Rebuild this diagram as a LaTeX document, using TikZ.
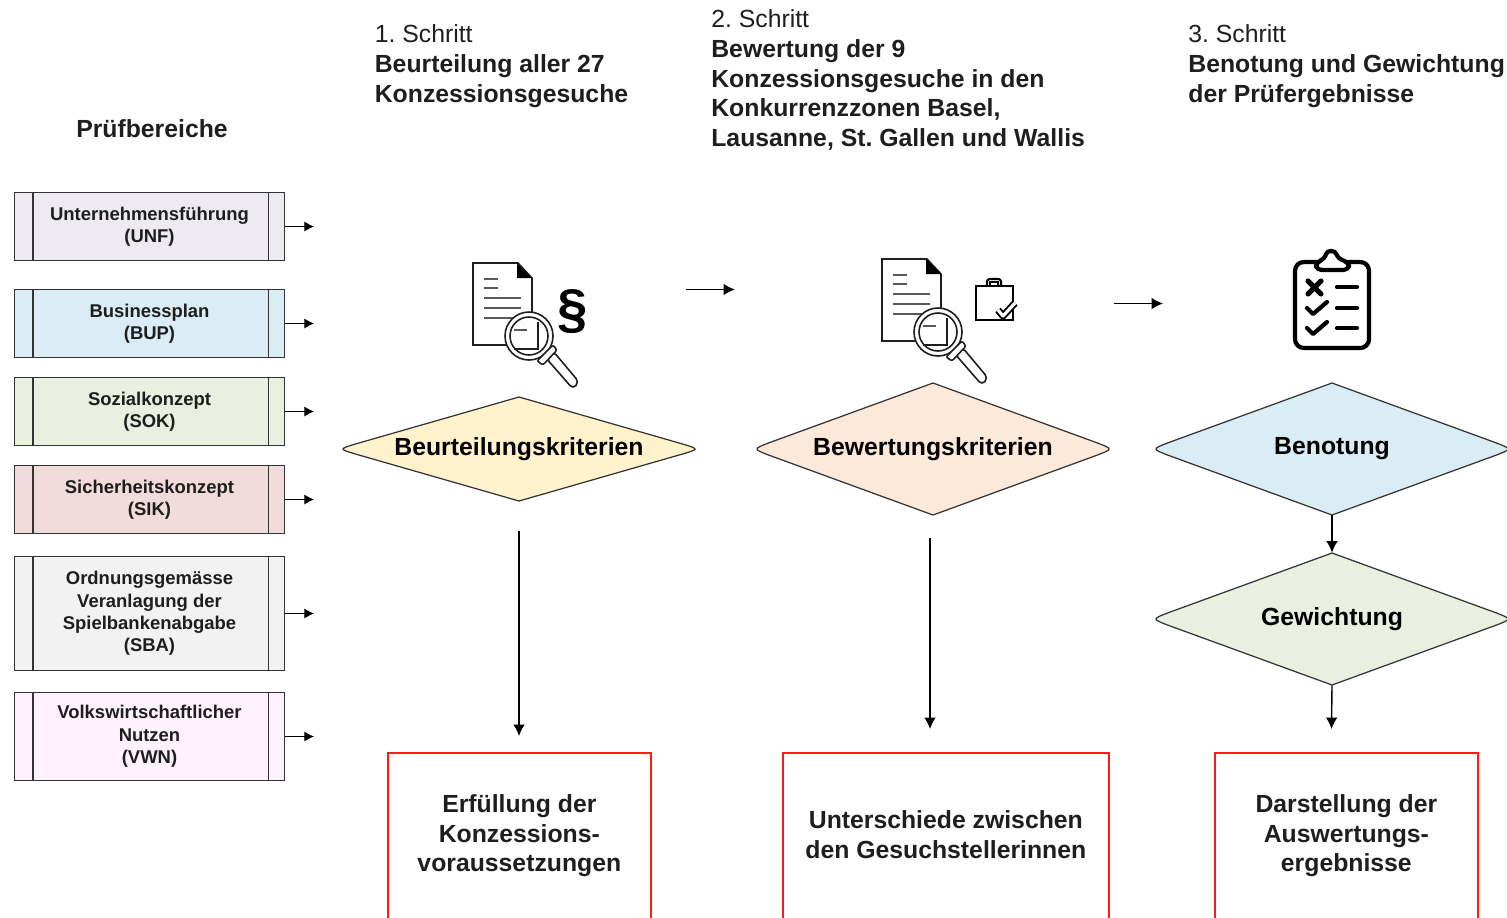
\documentclass[tikz,border=0pt]{standalone}
\usepackage{fontspec}
\setmainfont{Liberation Sans}
\usetikzlibrary{shapes.geometric,arrows.meta}
\definecolor{ink}{HTML}{1E1E1E}
\definecolor{frameline}{HTML}{333333}
\definecolor{cUNF}{HTML}{EDEAF1}
\definecolor{cBUP}{HTML}{DAEDF4}
\definecolor{cSOK}{HTML}{E9F0DF}
\definecolor{cSIK}{HTML}{F2DCDB}
\definecolor{cSBA}{HTML}{F2F2F2}
\definecolor{cVWN}{HTML}{FDF2FD}
\definecolor{cBeu}{HTML}{FFF2CC}
\definecolor{cBew}{HTML}{FCE9DA}
\definecolor{cBen}{HTML}{DAEDF4}
\definecolor{cGew}{HTML}{E9F0DF}
\definecolor{boxred}{HTML}{FF1A1A}
\tikzset{
  x=0.02cm,y=-0.02cm,
  headtext/.style={anchor=north west,inner sep=0pt,align=left,text=ink,font=\frenchspacing\fontsize{14.1}{16.85}\selectfont},
  procbox/.style={draw=frameline,line width=0.7pt,minimum width=270*0.02cm,inner sep=0pt,align=center,text=ink,font=\bfseries\fontsize{10.5}{12.7}\selectfont},
  procline/.style={line width=0.7pt,draw=frameline},
  flow/.style={-{Latex[length=6.5pt,width=6.6pt]},line width=0.8pt,black},
  shortflow/.style={-{Latex[length=5.5pt,width=5.8pt]},line width=0.7pt,black},
  diamtext/.style={diamond,inner sep=0pt,text=black,font=\bfseries\fontsize{14.1}{17}\selectfont},
  diamline/.style={line width=0.7pt,draw=frameline},
  result/.style={anchor=north west,inner sep=0pt,align=center,text=ink,font=\bfseries\fontsize{14.1}{16.85}\selectfont},
  resultline/.style={draw=boxred,line width=1pt},
  icon/.style={line width=0.9pt,draw=ink},
  iconlight/.style={line width=1.1pt,draw=black!65},
  clipico/.style={line width=2.4pt,draw=black,line cap=round,line join=round},
}
% name, cx, cy, half width, half height, fill, text
\newcommand{\flowdiam}[7]{%
  \pgfmathsetmacro{\diamdy}{17*#5/(#4+5)}%
  \path[fill=#6,diamline]
    (#2,#3-#5) -- (#2+#4-12,#3-\diamdy) .. controls (#2+#4+4,#3) and (#2+#4+4,#3) .. (#2+#4-12,#3+\diamdy)
    -- (#2,#3+#5) -- (#2-#4+12,#3+\diamdy) .. controls (#2-#4-4,#3) and (#2-#4-4,#3) .. (#2-#4+12,#3-\diamdy) -- cycle;
  \pgfmathsetmacro{\diamasp}{#4/#5}%
  \node[diamtext,minimum width=2*#4*0.02cm,minimum height=2*#5*0.02cm,aspect=\diamasp] (#1) at (#2,#3) {#7};%
}
% name, top, height, fill, text
\newcommand{\prbox}[5]{%
  \node[procbox,fill=#4,minimum height=#3*0.02cm] (#1) at (149.5,#2+#3/2) {#5};
  \draw[procline] (#1.north west)++(19,0) -- ++(0,#3);
  \draw[procline] (#1.north east)++(-17,0) -- ++(0,#3);
  \coordinate (#1-end) at (314,#2+#3/2);
  \draw[shortflow] (#1.east) -- (#1-end);%
}
% name, left, width, text height, text: open frame running off the page
\newcommand{\resbox}[5]{%
  \node[result,minimum width=#3*0.02cm,minimum height=#4*0.02cm] (#1) at (#2,753) {#5};
  \draw[resultline] (#1.north west) ++(0,200) -- (#1.north west) -- (#1.north east) -- ++(0,200);%
}
% document with magnifier, offset dx dy
\newcommand{\docicon}[2]{%
\begin{scope}[shift={(#1,#2)}]
  \draw[icon,fill=white] (473,263) -- (518,263) -- (532,278) -- (532,345) -- (473,345) -- cycle;
  \fill[black] (517,263) -- (532,278) -- (517,278) -- cycle;
  \draw[iconlight] (484,279) -- (498,279) (484,288) -- (498,288) (484,298) -- (521,298) (484,308) -- (521,308) (484,318) -- (515,318);
  \draw[icon,fill=white] (529,336) circle (24);
  \draw[icon,fill=white] (529,336) circle (19);
  \draw[iconlight] (514,330) -- (527,330);
  \draw[icon] (514,349) -- (538,349) -- (538,322);
  \draw[icon,fill=white,rounded corners=2.6pt] (546,358) -- (553,351) -- (579,382) -- (573,389) -- cycle;
  \draw[icon,fill=white,rounded corners=1.2pt] (553,345) -- (557,350) -- (543,365) -- (537,361) -- cycle;
\end{scope}}
\begin{document}
\begin{tikzpicture}
\useasboundingbox (0,0) rectangle (1507,917);
\clip (0,0) rectangle (1507,917);

% headings
\node[inner sep=0pt,text=ink,font=\bfseries\fontsize{14.1}{17}\selectfont] (pruef) at (152,129) {Prüfbereiche};
\node[headtext] (s1) at (374.5,24.5) {1. Schritt\\\textbf{Beurteilung aller 27}\\\textbf{Konzessionsgesuche}};
\node[headtext] (s2) at (711,9.5) {2. Schritt\\\textbf{Bewertung der 9}\\\textbf{Konzessionsgesuche in den}\\\textbf{Konkurrenzzonen Basel,}\\\textbf{Lausanne, St. Gallen und Wallis}};
\node[headtext] (s3) at (1188,24.5) {3. Schritt\\\textbf{Benotung und Gewichtung}\\\textbf{der Prüfergebnisse}};

% left boxes
\prbox{unf}{192.5}{68}{cUNF}{Unternehmensführung\\(UNF)}
\prbox{bup}{289.5}{68}{cBUP}{Businessplan\\(BUP)}
\prbox{sok}{377.5}{68}{cSOK}{Sozialkonzept\\(SOK)}
\prbox{sik}{465.5}{68}{cSIK}{Sicherheitskonzept\\(SIK)}
\prbox{sba}{556.5}{114}{cSBA}{Ordnungsgemässe\\Veranlagung der\\Spielbankenabgabe\\(SBA)}
\prbox{vwn}{692.5}{88}{cVWN}{Volkswirtschaftlicher\\Nutzen\\(VWN)}

% icons
\docicon{0}{0}
\node[inner sep=0pt,font=\bfseries\fontsize{31}{31}\selectfont,text=black] (para) at (573,312) {§};
\docicon{409}{-4}
\draw[line width=1.2pt,draw=black,fill=white] (976,286) rectangle (1013,320);
\draw[line width=1.2pt,draw=black,rounded corners=1.5pt] (987,286) -- (987,279) -- (1001,279) -- (1001,286);
\draw[line width=0.9pt,draw=black] (990,286) -- (990,282) -- (998,282) -- (998,286);
\draw[line width=4pt,black,line join=round] (998,310) -- (1003,316) -- (1015,303);
\draw[line width=1.8pt,white,line join=round] (998,310) -- (1003,316) -- (1015,303);

% clipboard
\draw[clipico,fill=white,rounded corners=5pt] (1295,262) rectangle (1369,348);
\draw[clipico,fill=white,rounded corners=3pt] (1316,270) -- (1316,262) -- (1325,259) .. controls (1327,250) and (1335,250) .. (1338,259) -- (1349,262) -- (1349,270) -- cycle;
\draw[clipico,line width=2.9pt] (1308,281) -- (1321,294) (1321,281) -- (1308,294);
\draw[clipico] (1337,287) -- (1357,287) (1337,308) -- (1357,308) (1337,328) -- (1357,328);
\draw[clipico] (1307,308) -- (1313,314) -- (1327,302) (1307,328) -- (1313,334) -- (1327,322);

% diamonds
\flowdiam{beu}{519}{449}{176}{52}{cBeu}{Beurteilungskriterien}
\flowdiam{bew}{933}{449}{176}{66}{cBew}{Bewertungskriterien}
\flowdiam{ben}{1332}{449}{176}{66}{cBen}{Benotung}
\flowdiam{gew}{1332}{619}{176}{66}{cGew}{Gewichtung}

% result boxes
\resbox{r1}{388}{262}{165}{Erfüllung der\\Konzessions-\\voraussetzungen}
\resbox{r2}{783}{325}{162}{Unterschiede zwischen\\den Gesuchstellerinnen}
\resbox{r3}{1215}{262}{165}{Darstellung der\\Auswertungs-\\ergebnisse}

% connectors
\coordinate (a1s) at (686,289.5); \coordinate (a1e) at (735,289.5);
\coordinate (a2s) at (1114,303.5); \coordinate (a2e) at (1163,303.5);
\coordinate (d1s) at (519,531); \coordinate (d1e) at (519,736);
\coordinate (d2s) at (930,538); \coordinate (d2e) at (930,729);
\coordinate (d3e) at (1331.5,729);
\draw[flow] (a1s) -- (a1e);
\draw[flow] (a2s) -- (a2e);
\draw[flow] (d1s) -- (d1e);
\draw[flow] (d2s) -- (d2e);
\draw[flow] (ben.south) -- (gew.north);
\draw[flow] (gew.south) -- (d3e);
\end{tikzpicture}
\end{document}
